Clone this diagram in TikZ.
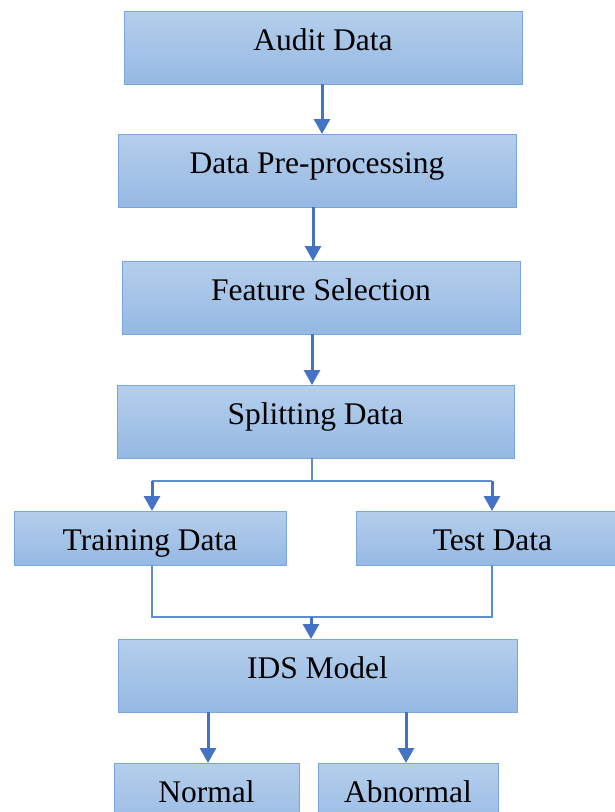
\documentclass[tikz,border=0pt]{standalone}
\usepackage{fontspec}
\setmainfont{Liberation Serif}
\usetikzlibrary{arrows.meta}
\definecolor{boxtop}{RGB}{181,206,236}
\definecolor{boxbot}{RGB}{149,185,227}
\definecolor{boxedge}{RGB}{122,166,221}
\definecolor{arrowblue}{RGB}{68,114,196}
\definecolor{linkblue}{RGB}{96,140,208}
\begin{document}
\begin{tikzpicture}[x=1pt,y=-1pt,
  stage/.style={draw=boxedge, line width=1pt, top color=boxtop, bottom color=boxbot,
    inner sep=0pt, outer sep=0pt, anchor=north west,
    font=\fontsize{31.5}{36}\selectfont,
    minimum height=73pt, text height=22pt, text depth=17pt},
  halfstage/.style={stage, minimum height=54pt, text height=30pt, text depth=6pt},
  flow/.style={draw=arrowblue, line width=3pt, -{Triangle[length=15pt,width=16pt]}},
  link/.style={draw=linkblue, line width=1.3pt}]
\useasboundingbox (0,0) rectangle (615,812);
\clip (0,0) rectangle (615,812);

% processing stages
\node[stage, minimum width=398pt] (audit) at (124,11) {Audit Data};
\node[stage, minimum width=398pt] (pre)   at (118,134) {Data Pre-processing};
\node[stage, minimum width=398pt] (feat)  at (122,261) {Feature Selection};
\node[stage, minimum width=397pt] (split) at (117,385) {Splitting Data};
\node[halfstage, minimum width=272pt] (train) at (14,511) {Training Data};
\node[halfstage, minimum width=273pt] (test)  at (356,511) {Test Data};
\node[stage, minimum width=399pt] (ids)   at (118,639) {IDS Model};
\node[stage, minimum width=185pt] (normal)   at (114,763) {Normal};
\node[stage, minimum width=180pt] (abnormal) at (318,763) {Abnormal};

% connector columns and junctions
\coordinate (x1) at (322,0);
\coordinate (x2) at (313,0);
\coordinate (x3) at (312,0);
\coordinate (fork)  at (312,481);
\coordinate (forkL) at (152,481);
\coordinate (forkR) at (492,481);
\coordinate (joinL) at (152,617);
\coordinate (joinR) at (492,617);
\coordinate (joinM) at (311,617);
\coordinate (xn) at (208,0);
\coordinate (xa) at (406,0);

% main flow
\draw[flow] (audit.south -| x1) -- (pre.north -| x1);
\draw[flow] (pre.south -| x2) -- (feat.north -| x2);
\draw[flow] (feat.south -| x3) -- (split.north -| x3);

% split into training and test data
\draw[link] (split.south -| fork) -- (fork);
\draw[link] (forkL) -- (forkR);
\draw[flow] (forkL) -- (train.north -| forkL);
\draw[flow] (forkR) -- (test.north -| forkR);

% merge into the model
\draw[link] (train.south -| joinL) -- (joinL) -- (joinR) -- (test.south -| joinR);
\draw[flow] (joinM) -- (ids.north -| joinM);

% classification outputs
\draw[flow] (ids.south -| xn) -- (normal.north -| xn);
\draw[flow] (ids.south -| xa) -- (abnormal.north -| xa);
\end{tikzpicture}
\end{document}
